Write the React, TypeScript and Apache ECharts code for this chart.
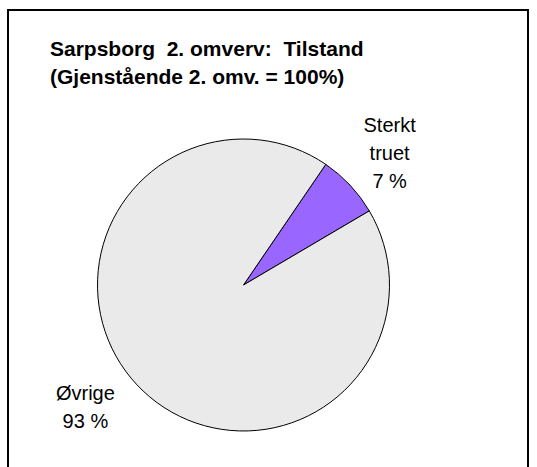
import React, { useEffect, useRef } from "react";
import * as echarts from "echarts";

const titleLines = ["Sarpsborg  2. omverv:  Tilstand", "(Gjenstående 2. omv. = 100%)"];
const categories = ["Sterkt\ntruet", "Øvrige"];
const values = [7, 93];
const percentLabels = ["7 %", "93 %"];
const colors = ["#9966FF", "#EAEAEA"];

export default function App() {
  const ref = useRef<HTMLDivElement>(null);
  useEffect(() => {
    if (!ref.current) return;
    const chart = echarts.init(ref.current, null, { renderer: "svg" });
    const labelShift = [
      { dx: 3, dy: 2 },
      { dx: -15, dy: -12 },
    ];
    chart.setOption({
      animation: false,
      backgroundColor: "#ffffff",
      title: {
        text: titleLines.join("\n"),
        left: 50,
        top: 35,
        padding: 0,
        textStyle: {
          fontFamily: "Liberation Sans, Arial, sans-serif",
          fontSize: 21,
          fontWeight: "bold",
          color: "#000000",
          lineHeight: 27.7,
        },
      },
      graphic: [
        {
          type: "rect",
          shape: { x: 8, y: 10, width: 520, height: 500 },
          style: { fill: "none", stroke: "#000000", lineWidth: 2 },
          silent: true,
          z: 100,
        },
      ],
      series: [
        {
          type: "pie",
          center: [243.5, 285],
          radius: 146,
          startAngle: 55.7,
          clockwise: true,
          avoidLabelOverlap: false,
          itemStyle: { borderColor: "#000000", borderWidth: 1 },
          label: {
            show: true,
            position: "outside",
            fontFamily: "Liberation Sans, Arial, sans-serif",
            fontSize: 20,
            lineHeight: 27.7,
            color: "#000000",
            formatter: (p: any) => p.name + "\n" + percentLabels[p.dataIndex],
          },
          labelLine: { show: false, length: 50, length2: 0 },
          labelLayout: (params: any) => {
            const pts = params.labelLinePoints;
            if (!pts) return {};
            const s = labelShift[params.dataIndex] || { dx: 0, dy: 0 };
            return {
              x: pts[1][0] + s.dx,
              y: pts[1][1] + s.dy,
              align: "center",
              verticalAlign: "middle",
            };
          },
          data: categories.map((name, i) => ({
            name,
            value: values[i],
            itemStyle: { color: colors[i] },
          })),
        },
      ],
    });
    return () => chart.dispose();
  }, []);
  return (
    <div
      ref={ref}
      style={{ position: "fixed", left: 0, top: 0, width: 537, height: 467 }}
    />
  );
}
